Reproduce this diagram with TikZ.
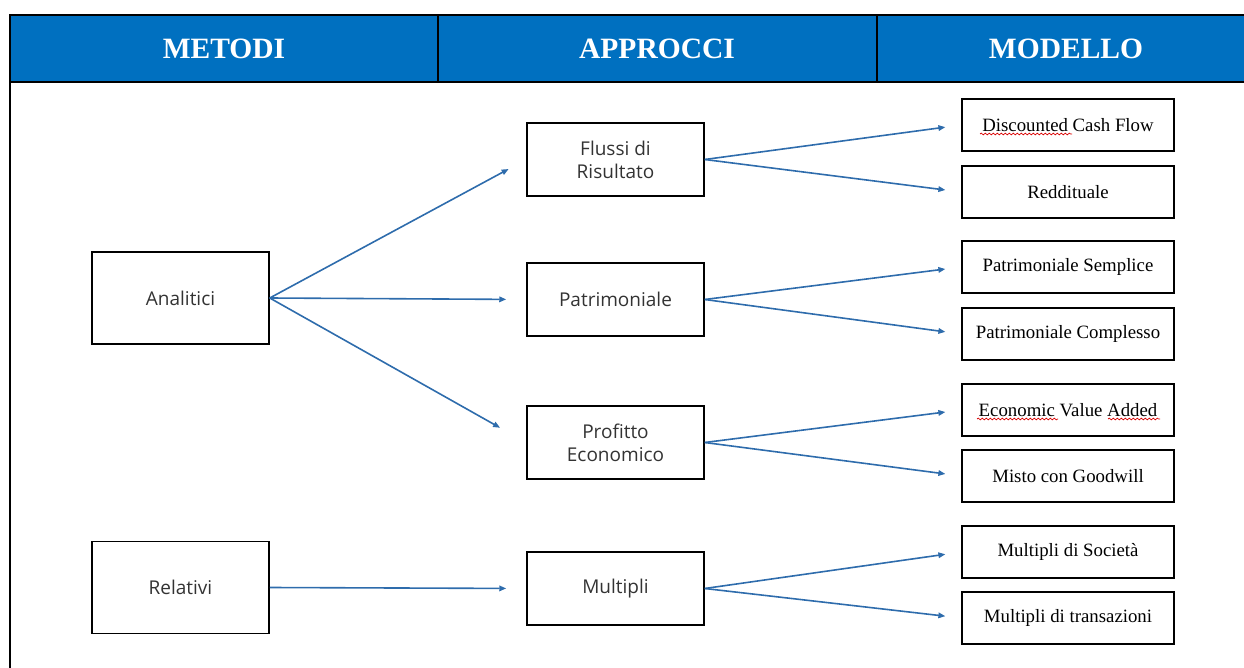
\documentclass[tikz,border=0pt]{standalone}
\usepackage{fontspec}
\setmainfont{Liberation Serif}
\setsansfont{Open Sans}
\usetikzlibrary{arrows.meta,decorations.pathmorphing}
\definecolor{hdrblue}{RGB}{0,112,192}
\definecolor{arrblue}{RGB}{46,108,172}
\tikzset{
    midbox/.style={draw, line width=1.5pt, minimum width=177pt, minimum height=73pt, align=center,
        font=\sffamily\fontsize{19}{23}\selectfont, text=black!80},
    leftbox/.style={midbox, minimum height=92pt},
    modbox/.style={draw, line width=1.5pt, minimum width=212pt, minimum height=52pt,
        font=\fontsize{18.8}{22}\selectfont},
    hdr/.style={text=white, font=\bfseries\fontsize{29.5}{33}\selectfont},
    arr/.style={draw=arrblue, line width=1.6pt, -{Triangle[length=7pt,width=5.5pt]}},
    squig/.style={draw=red!85!black, line width=0.7pt, decorate,
        decoration={snake, segment length=4pt, amplitude=0.9pt}}
}

\begin{document}
\begin{tikzpicture}[x=1pt, y=-1pt]
        \useasboundingbox (0,0) rectangle (1244,668);
        % header
        \fill[hdrblue] (10,15) rectangle (1244,82);
        \draw[line width=1.4pt] (1244,15) -- (10,15) -- (10,668);
        \draw[line width=1.4pt] (10,82) -- (1244,82);
        \draw[line width=1.4pt] (438,15) -- (438,82);
        \draw[line width=1.4pt] (877,15) -- (877,82);
        \node (h1) [hdr] at (224,49) {METODI};
        \node (h2) [hdr] at (657,49) {APPROCCI};
        \node (h3) [hdr] at (1066,49) {MODELLO};
        % metodi
        \node (ana) [leftbox] at (180.5,298) {Analitici};
        \node (rel) [leftbox] at (180.5,587.5) {Relativi};
        % approcci
        \node (flu) [midbox] at (615.5,159.5) {Flussi di\\Risultato};
        \node (pat) [midbox] at (615.5,299.5) {Patrimoniale};
        \node (pro) [midbox] at (615.5,442.5) {Profitto\\Economico};
        \node (mul) [midbox] at (615.5,588.5) {Multipli};
        % modelli
        \node (dcf) [modbox] at (1068,125) {Discounted Cash Flow};
        \node (red) [modbox] at (1068,192) {Reddituale};
        \node (pas) [modbox] at (1068,267) {Patrimoniale Semplice};
        \node (pac) [modbox] at (1068,334) {Patrimoniale Complesso};
        \node (eva) [modbox] at (1068,410) {Economic Value Added};
        \node (mgw) [modbox] at (1068,476) {Misto con Goodwill};
        \node (mso) [modbox] at (1068,552) {Multipli di Società};
        \node (mtr) [modbox] at (1068,618) {Multipli di transazioni};
        % sottolineature ortografiche
        \path[squig] (980,134) -- (1072,134);
        \path[squig] (977,419) -- (1058,419);
        \path[squig] (1108,419) -- (1160,419);
        % frecce
        \draw[arr, shorten >=20pt] (ana.east) -- (flu.west);
        \draw[arr, shorten >=20pt] (ana.east) -- (pat.west);
        \draw[arr, shorten >=30pt] (ana.east) -- (pro.west);
        \draw[arr, shorten >=20pt] (rel.east) -- (mul.west);
        \draw[arr, shorten >=16pt] (flu.east) -- (dcf.west);
        \draw[arr, shorten >=16pt] (flu.east) -- (red.west);
        \draw[arr, shorten >=16pt] (pat.east) -- (pas.west);
        \draw[arr, shorten >=16pt] (pat.east) -- (pac.west);
        \draw[arr, shorten >=16pt] (pro.east) -- (eva.west);
        \draw[arr, shorten >=16pt] (pro.east) -- (mgw.west);
        \draw[arr, shorten >=16pt] (mul.east) -- (mso.west);
        \draw[arr, shorten >=16pt] (mul.east) -- (mtr.west);
\end{tikzpicture}
\end{document}
